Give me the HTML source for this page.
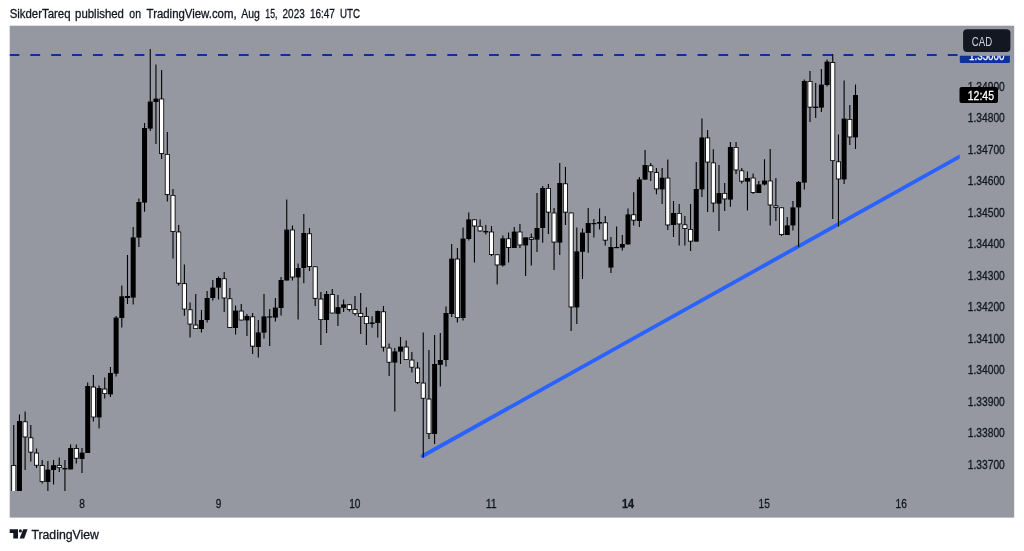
<!DOCTYPE html>
<html lang="en"><head><meta charset="utf-8"><title>USDCAD chart</title>
<style>
html,body{margin:0;padding:0;background:#fff}
body{width:1024px;height:551px;overflow:hidden;font-family:"Liberation Sans",sans-serif}
svg{display:block}
text{font-family:"Liberation Sans",sans-serif;font-size:12px;stroke-width:.3px;stroke-linejoin:round}
.d{stroke:#131722}.w{stroke:#fff}
</style></head><body>
<svg width="1024" height="551" viewBox="0 0 1024 551">
<rect x="0" y="0" width="1024" height="551" fill="#fff"/>
<rect x="9.7" y="25.7" width="1004.5" height="491.9" fill="#9598a1"/>
<text class="d" y="18.2" fill="#131722"><tspan x="9.65" textLength="60.9" lengthAdjust="spacingAndGlyphs">SikderTareq</tspan> <tspan x="75.1" textLength="48.8" lengthAdjust="spacingAndGlyphs">published</tspan> <tspan x="129.3" textLength="11.7" lengthAdjust="spacingAndGlyphs">on</tspan> <tspan x="146.6" textLength="90.0" lengthAdjust="spacingAndGlyphs">TradingView.com,</tspan> <tspan x="241.2" textLength="18.6" lengthAdjust="spacingAndGlyphs">Aug</tspan> <tspan x="265.3" textLength="12.1" lengthAdjust="spacingAndGlyphs">15,</tspan> <tspan x="282.6" textLength="22.1" lengthAdjust="spacingAndGlyphs">2023</tspan> <tspan x="309.9" textLength="25.0" lengthAdjust="spacingAndGlyphs">16:47</tspan> <tspan x="339.9" textLength="20.1" lengthAdjust="spacingAndGlyphs">UTC</tspan></text>
<defs><clipPath id="pane"><rect x="9.7" y="25.7" width="950" height="465.2"/></clipPath></defs>
<g clip-path="url(#pane)">
<line x1="422.6" y1="456" x2="960" y2="156.3" stroke="#2962ff" stroke-width="3.8" stroke-linecap="round"/>
<line x1="9.5" y1="54.9" x2="957.8" y2="54.9" stroke="#0c3299" stroke-width="2" stroke-dasharray="9.8 11.05"/>
<path d="M13.75 425.0V496.0M19.44 414.4V496.0M25.12 411.6V470.0M30.81 425.0V461.6M36.50 448.6V468.0M42.19 460.0V483.6M47.88 461.0V496.0M53.56 460.0V484.4M59.25 457.4V472.0M64.94 460.0V496.0M70.62 444.4V469.4M76.31 444.4V463.6M82.00 448.0V473.0M87.69 382.4V453.0M93.38 375.0V421.6M99.06 385.6V428.4M104.75 377.4V398.6M110.44 367.0V397.0M116.12 316.0V376.4M121.81 285.6V327.6M127.50 255.0V304.0M133.19 227.0V304.4M138.88 198.4V247.0M144.56 123.0V211.8M150.25 49.0V131.0M155.94 64.4V144.0M161.62 70.0V159.0M167.31 132.0V201.5M173.00 189.0V258.6M178.69 225.0V285.6M184.38 264.5V315.8M190.06 302.4V337.6M195.75 294.0V329.0M201.44 310.0V332.6M207.12 291.0V322.6M212.81 280.0V300.6M218.50 276.6V299.4M224.19 272.0V312.0M229.88 288.0V328.0M235.56 305.4V334.6M241.25 304.0V320.4M246.94 314.0V336.0M252.62 313.0V354.0M258.31 320.0V357.4M264.00 294.0V338.6M269.69 309.0V346.0M275.38 298.0V321.6M281.06 277.0V315.6M286.75 199.6V280.5M292.44 225.6V280.5M298.12 263.6V319.4M303.81 214.0V283.3M309.50 228.0V271.0M315.19 266.4V306.0M320.88 292.0V345.0M326.56 291.0V333.0M332.25 289.0V313.4M337.94 295.0V326.0M343.62 299.6V312.0M349.31 304.3V311.5M355.00 296.0V315.5M360.69 293.0V334.0M366.38 307.2V345.0M372.06 316.2V327.8M377.75 310.5V337.5M383.44 306.0V351.6M389.12 343.6V376.0M394.81 348.0V411.6M400.50 337.0V364.0M406.19 340.6V360.0M411.88 352.0V372.4M417.56 362.0V384.0M423.25 332.4V457.6M428.94 350.0V439.0M434.62 335.0V444.0M440.31 333.0V386.6M446.00 306.4V366.5M451.69 244.0V317.0M457.38 248.0V322.6M463.06 227.6V320.6M468.75 212.4V240.6M474.44 219.4V262.6M480.12 219.4V231.4M485.81 225.0V234.4M491.50 226.0V256.0M497.19 254.4V284.4M502.88 235.6V266.4M508.56 232.4V262.4M514.25 227.0V248.0M519.94 224.0V248.0M525.62 237.4V276.0M531.31 233.6V265.6M537.00 193.0V252.0M542.69 186.0V242.8M548.38 184.0V234.0M554.06 208.0V270.0M559.75 163.0V255.0M565.44 167.0V225.0M571.12 212.6V331.0M576.81 227.6V324.0M582.50 228.6V279.0M588.19 208.0V252.8M593.88 219.0V237.6M599.56 208.6V229.4M605.25 216.0V245.6M610.94 237.0V273.0M616.62 226.6V248.0M622.31 235.0V250.6M628.00 208.6V244.4M633.69 192.2V225.6M639.38 177.0V227.0M645.06 150.0V180.0M650.75 163.0V181.0M656.44 168.0V194.3M662.12 168.0V204.0M667.81 159.6V230.0M673.50 201.0V237.0M679.19 204.0V245.6M684.88 216.0V245.6M690.56 204.0V251.0M696.25 162.0V241.6M701.94 118.5V197.0M707.62 130.0V212.0M713.31 149.2V212.2M719.00 165.0V231.0M724.69 183.0V211.0M730.38 142.0V206.8M736.06 142.0V174.0M741.75 168.0V183.6M747.44 171.6V210.6M753.12 173.6V194.0M758.81 181.0V193.0M764.50 159.2V185.5M770.19 149.0V225.6M775.88 178.0V221.0M781.56 207.4V236.0M787.25 217.0V235.0M792.94 201.0V230.4M798.62 181.0V247.0M804.31 79.6V189.6M810.00 71.0V122.0M815.69 83.0V118.0M821.38 69.0V112.0M827.06 59.4V86.4M832.75 54.0V219.0M838.44 134.6V226.4M844.12 80.6V184.0M849.81 105.0V145.0M855.50 84.4V149.0" stroke="#000" stroke-width="1.1" fill="none"/>
<rect x="11.25" y="465.0" width="5.0" height="31.0" fill="#000"/><rect x="12.10" y="465.9" width="3.30" height="29.3" fill="#fff"/>
<rect x="16.94" y="421.0" width="5.0" height="75.0" fill="#000"/>
<rect x="22.62" y="421.4" width="5.0" height="16.0" fill="#000"/><rect x="23.48" y="422.2" width="3.30" height="14.3" fill="#fff"/>
<rect x="28.31" y="437.4" width="5.0" height="15.2" fill="#000"/><rect x="29.16" y="438.2" width="3.30" height="13.5" fill="#fff"/>
<rect x="34.00" y="452.6" width="5.0" height="13.0" fill="#000"/><rect x="34.85" y="453.5" width="3.30" height="11.3" fill="#fff"/>
<rect x="39.69" y="465.0" width="5.0" height="17.0" fill="#000"/><rect x="40.54" y="465.9" width="3.30" height="15.3" fill="#fff"/>
<rect x="45.38" y="469.6" width="5.0" height="12.4" fill="#000"/>
<rect x="51.06" y="465.2" width="5.0" height="4.8" fill="#000"/>
<rect x="56.75" y="465.0" width="5.0" height="3.0" fill="#000"/><rect x="57.60" y="465.9" width="3.30" height="1.3" fill="#fff"/>
<rect x="62.44" y="468.0" width="5.0" height="1.4" fill="#000"/>
<rect x="68.12" y="448.0" width="5.0" height="21.4" fill="#000"/>
<rect x="73.81" y="448.0" width="5.0" height="10.6" fill="#000"/><rect x="74.66" y="448.9" width="3.30" height="8.9" fill="#fff"/>
<rect x="79.50" y="452.6" width="5.0" height="6.4" fill="#000"/>
<rect x="85.19" y="386.0" width="5.0" height="67.0" fill="#000"/>
<rect x="90.88" y="386.6" width="5.0" height="30.8" fill="#000"/><rect x="91.72" y="387.5" width="3.30" height="29.1" fill="#fff"/>
<rect x="96.56" y="388.0" width="5.0" height="29.4" fill="#000"/>
<rect x="102.25" y="388.6" width="5.0" height="5.4" fill="#000"/><rect x="103.10" y="389.5" width="3.30" height="3.7" fill="#fff"/>
<rect x="107.94" y="373.0" width="5.0" height="21.4" fill="#000"/>
<rect x="113.62" y="317.6" width="5.0" height="56.0" fill="#000"/>
<rect x="119.31" y="296.3" width="5.0" height="21.7" fill="#000"/>
<rect x="125.00" y="296.0" width="5.0" height="2.0" fill="#000"/>
<rect x="130.69" y="237.4" width="5.0" height="60.2" fill="#000"/>
<rect x="136.38" y="202.0" width="5.0" height="35.6" fill="#000"/>
<rect x="142.06" y="128.0" width="5.0" height="74.6" fill="#000"/>
<rect x="147.75" y="101.6" width="5.0" height="27.0" fill="#000"/>
<rect x="153.44" y="98.6" width="5.0" height="3.4" fill="#000"/>
<rect x="159.12" y="98.6" width="5.0" height="55.4" fill="#000"/><rect x="159.97" y="99.4" width="3.30" height="53.7" fill="#fff"/>
<rect x="164.81" y="154.0" width="5.0" height="41.0" fill="#000"/><rect x="165.66" y="154.8" width="3.30" height="39.3" fill="#fff"/>
<rect x="170.50" y="195.0" width="5.0" height="37.0" fill="#000"/><rect x="171.35" y="195.8" width="3.30" height="35.3" fill="#fff"/>
<rect x="176.19" y="231.6" width="5.0" height="52.0" fill="#000"/><rect x="177.04" y="232.4" width="3.30" height="50.3" fill="#fff"/>
<rect x="181.88" y="283.2" width="5.0" height="26.2" fill="#000"/><rect x="182.72" y="284.1" width="3.30" height="24.5" fill="#fff"/>
<rect x="187.56" y="309.4" width="5.0" height="15.1" fill="#000"/><rect x="188.41" y="310.2" width="3.30" height="13.4" fill="#fff"/>
<rect x="193.25" y="324.6" width="5.0" height="4.4" fill="#000"/><rect x="194.10" y="325.5" width="3.30" height="2.7" fill="#fff"/>
<rect x="198.94" y="320.0" width="5.0" height="9.0" fill="#000"/>
<rect x="204.62" y="298.0" width="5.0" height="22.0" fill="#000"/>
<rect x="210.31" y="287.6" width="5.0" height="10.4" fill="#000"/>
<rect x="216.00" y="278.0" width="5.0" height="9.6" fill="#000"/>
<rect x="221.69" y="278.4" width="5.0" height="20.0" fill="#000"/><rect x="222.54" y="279.2" width="3.30" height="18.3" fill="#fff"/>
<rect x="227.38" y="298.4" width="5.0" height="29.6" fill="#000"/><rect x="228.22" y="299.2" width="3.30" height="27.9" fill="#fff"/>
<rect x="233.06" y="310.6" width="5.0" height="17.4" fill="#000"/>
<rect x="238.75" y="310.6" width="5.0" height="9.8" fill="#000"/><rect x="239.60" y="311.5" width="3.30" height="8.1" fill="#fff"/>
<rect x="244.44" y="316.0" width="5.0" height="4.4" fill="#000"/>
<rect x="250.12" y="316.4" width="5.0" height="30.2" fill="#000"/><rect x="250.97" y="317.2" width="3.30" height="28.5" fill="#fff"/>
<rect x="255.81" y="332.4" width="5.0" height="14.6" fill="#000"/>
<rect x="261.50" y="316.4" width="5.0" height="16.2" fill="#000"/>
<rect x="267.19" y="316.4" width="5.0" height="1.2" fill="#000"/>
<rect x="272.88" y="307.6" width="5.0" height="10.0" fill="#000"/>
<rect x="278.56" y="280.0" width="5.0" height="28.0" fill="#000"/>
<rect x="284.25" y="229.6" width="5.0" height="50.9" fill="#000"/>
<rect x="289.94" y="229.6" width="5.0" height="47.9" fill="#000"/><rect x="290.79" y="230.4" width="3.30" height="46.2" fill="#fff"/>
<rect x="295.62" y="268.0" width="5.0" height="9.4" fill="#000"/>
<rect x="301.31" y="233.0" width="5.0" height="35.0" fill="#000"/>
<rect x="307.00" y="233.4" width="5.0" height="33.6" fill="#000"/><rect x="307.85" y="234.2" width="3.30" height="31.9" fill="#fff"/>
<rect x="312.69" y="266.4" width="5.0" height="32.4" fill="#000"/><rect x="313.54" y="267.2" width="3.30" height="30.7" fill="#fff"/>
<rect x="318.38" y="298.6" width="5.0" height="21.4" fill="#000"/><rect x="319.23" y="299.5" width="3.30" height="19.7" fill="#fff"/>
<rect x="324.06" y="294.0" width="5.0" height="26.0" fill="#000"/>
<rect x="329.75" y="294.0" width="5.0" height="19.4" fill="#000"/><rect x="330.60" y="294.9" width="3.30" height="17.7" fill="#fff"/>
<rect x="335.44" y="307.2" width="5.0" height="6.6" fill="#000"/>
<rect x="341.12" y="304.4" width="5.0" height="3.4" fill="#000"/>
<rect x="346.81" y="304.3" width="5.0" height="5.5" fill="#000"/><rect x="347.66" y="305.2" width="3.30" height="3.8" fill="#fff"/>
<rect x="352.50" y="309.0" width="5.0" height="5.0" fill="#000"/><rect x="353.35" y="309.9" width="3.30" height="3.3" fill="#fff"/>
<rect x="358.19" y="313.0" width="5.0" height="4.0" fill="#000"/><rect x="359.04" y="313.9" width="3.30" height="2.3" fill="#fff"/>
<rect x="363.88" y="316.0" width="5.0" height="8.0" fill="#000"/><rect x="364.73" y="316.9" width="3.30" height="6.3" fill="#fff"/>
<rect x="369.56" y="322.5" width="5.0" height="1.5" fill="#000"/>
<rect x="375.25" y="311.0" width="5.0" height="12.0" fill="#000"/>
<rect x="380.94" y="311.4" width="5.0" height="36.2" fill="#000"/><rect x="381.79" y="312.2" width="3.30" height="34.5" fill="#fff"/>
<rect x="386.62" y="347.6" width="5.0" height="15.0" fill="#000"/><rect x="387.48" y="348.5" width="3.30" height="13.3" fill="#fff"/>
<rect x="392.31" y="351.4" width="5.0" height="11.2" fill="#000"/>
<rect x="398.00" y="346.6" width="5.0" height="5.0" fill="#000"/>
<rect x="403.69" y="346.6" width="5.0" height="13.4" fill="#000"/><rect x="404.54" y="347.5" width="3.30" height="11.7" fill="#fff"/>
<rect x="409.38" y="359.6" width="5.0" height="8.0" fill="#000"/><rect x="410.23" y="360.5" width="3.30" height="6.3" fill="#fff"/>
<rect x="415.06" y="367.6" width="5.0" height="15.2" fill="#000"/><rect x="415.91" y="368.5" width="3.30" height="13.5" fill="#fff"/>
<rect x="420.75" y="382.6" width="5.0" height="16.0" fill="#000"/><rect x="421.60" y="383.5" width="3.30" height="14.3" fill="#fff"/>
<rect x="426.44" y="398.6" width="5.0" height="35.4" fill="#000"/><rect x="427.29" y="399.5" width="3.30" height="33.7" fill="#fff"/>
<rect x="432.12" y="364.0" width="5.0" height="70.0" fill="#000"/>
<rect x="437.81" y="360.0" width="5.0" height="4.8" fill="#000"/>
<rect x="443.50" y="313.0" width="5.0" height="47.0" fill="#000"/>
<rect x="449.19" y="258.6" width="5.0" height="55.4" fill="#000"/>
<rect x="454.88" y="258.6" width="5.0" height="59.4" fill="#000"/><rect x="455.73" y="259.5" width="3.30" height="57.7" fill="#fff"/>
<rect x="460.56" y="238.6" width="5.0" height="79.4" fill="#000"/>
<rect x="466.25" y="219.4" width="5.0" height="19.6" fill="#000"/>
<rect x="471.94" y="219.4" width="5.0" height="7.0" fill="#000"/><rect x="472.79" y="220.2" width="3.30" height="5.3" fill="#fff"/>
<rect x="477.62" y="226.0" width="5.0" height="5.4" fill="#000"/><rect x="478.48" y="226.8" width="3.30" height="3.7" fill="#fff"/>
<rect x="483.31" y="231.0" width="5.0" height="1.4" fill="#000"/>
<rect x="489.00" y="231.6" width="5.0" height="23.4" fill="#000"/><rect x="489.85" y="232.4" width="3.30" height="21.7" fill="#fff"/>
<rect x="494.69" y="254.4" width="5.0" height="11.0" fill="#000"/><rect x="495.54" y="255.2" width="3.30" height="9.3" fill="#fff"/>
<rect x="500.38" y="238.4" width="5.0" height="27.0" fill="#000"/>
<rect x="506.06" y="238.4" width="5.0" height="9.6" fill="#000"/><rect x="506.91" y="239.2" width="3.30" height="7.9" fill="#fff"/>
<rect x="511.75" y="231.6" width="5.0" height="16.4" fill="#000"/>
<rect x="517.44" y="231.6" width="5.0" height="13.8" fill="#000"/><rect x="518.29" y="232.4" width="3.30" height="12.1" fill="#fff"/>
<rect x="523.12" y="237.4" width="5.0" height="8.0" fill="#000"/>
<rect x="528.81" y="237.4" width="5.0" height="2.4" fill="#000"/><rect x="529.66" y="238.2" width="3.30" height="0.7" fill="#fff"/>
<rect x="534.50" y="228.0" width="5.0" height="11.6" fill="#000"/>
<rect x="540.19" y="188.0" width="5.0" height="40.0" fill="#000"/>
<rect x="545.88" y="188.0" width="5.0" height="24.6" fill="#000"/><rect x="546.73" y="188.8" width="3.30" height="22.9" fill="#fff"/>
<rect x="551.56" y="212.6" width="5.0" height="29.9" fill="#000"/><rect x="552.41" y="213.4" width="3.30" height="28.2" fill="#fff"/>
<rect x="557.25" y="183.0" width="5.0" height="59.6" fill="#000"/>
<rect x="562.94" y="183.4" width="5.0" height="29.2" fill="#000"/><rect x="563.79" y="184.2" width="3.30" height="27.5" fill="#fff"/>
<rect x="568.62" y="212.6" width="5.0" height="94.8" fill="#000"/><rect x="569.48" y="213.4" width="3.30" height="93.1" fill="#fff"/>
<rect x="574.31" y="251.4" width="5.0" height="56.0" fill="#000"/>
<rect x="580.00" y="232.6" width="5.0" height="19.2" fill="#000"/>
<rect x="585.69" y="223.0" width="5.0" height="10.0" fill="#000"/>
<rect x="591.38" y="223.0" width="5.0" height="1.2" fill="#000"/>
<rect x="597.06" y="222.0" width="5.0" height="1.6" fill="#000"/>
<rect x="602.75" y="222.4" width="5.0" height="18.2" fill="#000"/><rect x="603.60" y="223.2" width="3.30" height="16.5" fill="#fff"/>
<rect x="608.44" y="247.0" width="5.0" height="20.6" fill="#000"/>
<rect x="614.12" y="247.0" width="5.0" height="1.2" fill="#000"/>
<rect x="619.81" y="244.0" width="5.0" height="3.6" fill="#000"/>
<rect x="625.50" y="214.4" width="5.0" height="30.0" fill="#000"/>
<rect x="631.19" y="214.4" width="5.0" height="6.2" fill="#000"/><rect x="632.04" y="215.2" width="3.30" height="4.5" fill="#fff"/>
<rect x="636.88" y="179.4" width="5.0" height="41.6" fill="#000"/>
<rect x="642.56" y="165.0" width="5.0" height="14.6" fill="#000"/>
<rect x="648.25" y="165.4" width="5.0" height="6.8" fill="#000"/><rect x="649.10" y="166.2" width="3.30" height="5.1" fill="#fff"/>
<rect x="653.94" y="172.2" width="5.0" height="17.1" fill="#000"/><rect x="654.79" y="173.0" width="3.30" height="15.4" fill="#fff"/>
<rect x="659.62" y="177.7" width="5.0" height="11.7" fill="#000"/>
<rect x="665.31" y="177.7" width="5.0" height="47.7" fill="#000"/><rect x="666.16" y="178.5" width="3.30" height="46.0" fill="#fff"/>
<rect x="671.00" y="213.0" width="5.0" height="12.0" fill="#000"/>
<rect x="676.69" y="213.0" width="5.0" height="11.4" fill="#000"/><rect x="677.54" y="213.8" width="3.30" height="9.7" fill="#fff"/>
<rect x="682.38" y="224.4" width="5.0" height="4.6" fill="#000"/><rect x="683.23" y="225.2" width="3.30" height="2.9" fill="#fff"/>
<rect x="688.06" y="229.0" width="5.0" height="12.6" fill="#000"/><rect x="688.91" y="229.8" width="3.30" height="10.9" fill="#fff"/>
<rect x="693.75" y="189.0" width="5.0" height="52.6" fill="#000"/>
<rect x="699.44" y="137.5" width="5.0" height="51.9" fill="#000"/>
<rect x="705.12" y="137.5" width="5.0" height="25.0" fill="#000"/><rect x="705.98" y="138.3" width="3.30" height="23.3" fill="#fff"/>
<rect x="710.81" y="162.5" width="5.0" height="41.0" fill="#000"/><rect x="711.66" y="163.3" width="3.30" height="39.3" fill="#fff"/>
<rect x="716.50" y="193.0" width="5.0" height="10.6" fill="#000"/>
<rect x="722.19" y="193.0" width="5.0" height="6.4" fill="#000"/><rect x="723.04" y="193.8" width="3.30" height="4.7" fill="#fff"/>
<rect x="727.88" y="147.0" width="5.0" height="52.6" fill="#000"/>
<rect x="733.56" y="147.0" width="5.0" height="23.4" fill="#000"/><rect x="734.41" y="147.8" width="3.30" height="21.7" fill="#fff"/>
<rect x="739.25" y="170.4" width="5.0" height="11.2" fill="#000"/><rect x="740.10" y="171.2" width="3.30" height="9.5" fill="#fff"/>
<rect x="744.94" y="178.0" width="5.0" height="3.6" fill="#000"/>
<rect x="750.62" y="177.6" width="5.0" height="15.4" fill="#000"/><rect x="751.48" y="178.4" width="3.30" height="13.7" fill="#fff"/>
<rect x="756.31" y="184.4" width="5.0" height="8.6" fill="#000"/>
<rect x="762.00" y="180.6" width="5.0" height="3.9" fill="#000"/>
<rect x="767.69" y="180.6" width="5.0" height="24.8" fill="#000"/><rect x="768.54" y="181.4" width="3.30" height="23.1" fill="#fff"/>
<rect x="773.38" y="205.4" width="5.0" height="2.4" fill="#000"/><rect x="774.23" y="206.2" width="3.30" height="0.7" fill="#fff"/>
<rect x="779.06" y="207.4" width="5.0" height="27.6" fill="#000"/><rect x="779.91" y="208.2" width="3.30" height="25.9" fill="#fff"/>
<rect x="784.75" y="225.4" width="5.0" height="9.6" fill="#000"/>
<rect x="790.44" y="207.4" width="5.0" height="18.0" fill="#000"/>
<rect x="796.12" y="182.0" width="5.0" height="25.4" fill="#000"/>
<rect x="801.81" y="81.0" width="5.0" height="101.6" fill="#000"/>
<rect x="807.50" y="81.0" width="5.0" height="26.6" fill="#000"/><rect x="808.35" y="81.8" width="3.30" height="24.9" fill="#fff"/>
<rect x="813.19" y="106.6" width="5.0" height="1.4" fill="#000"/>
<rect x="818.88" y="84.6" width="5.0" height="23.0" fill="#000"/>
<rect x="824.56" y="61.6" width="5.0" height="23.4" fill="#000"/>
<rect x="830.25" y="62.0" width="5.0" height="99.0" fill="#000"/><rect x="831.10" y="62.9" width="3.30" height="97.3" fill="#fff"/>
<rect x="835.94" y="161.4" width="5.0" height="18.0" fill="#000"/><rect x="836.79" y="162.2" width="3.30" height="16.3" fill="#fff"/>
<rect x="841.62" y="118.6" width="5.0" height="60.8" fill="#000"/>
<rect x="847.31" y="119.0" width="5.0" height="18.4" fill="#000"/><rect x="848.16" y="119.8" width="3.30" height="16.7" fill="#fff"/>
<rect x="853.00" y="95.0" width="5.0" height="42.4" fill="#000"/>
</g>
<text class="d" x="967.8" y="90.8" fill="#131722" textLength="37" lengthAdjust="spacingAndGlyphs">1.34900</text>
<text class="d" x="967.8" y="122.3" fill="#131722" textLength="37" lengthAdjust="spacingAndGlyphs">1.34800</text>
<text class="d" x="967.8" y="153.8" fill="#131722" textLength="37" lengthAdjust="spacingAndGlyphs">1.34700</text>
<text class="d" x="967.8" y="185.2" fill="#131722" textLength="37" lengthAdjust="spacingAndGlyphs">1.34600</text>
<text class="d" x="967.8" y="216.7" fill="#131722" textLength="37" lengthAdjust="spacingAndGlyphs">1.34500</text>
<text class="d" x="967.8" y="248.2" fill="#131722" textLength="37" lengthAdjust="spacingAndGlyphs">1.34400</text>
<text class="d" x="967.8" y="279.7" fill="#131722" textLength="37" lengthAdjust="spacingAndGlyphs">1.34300</text>
<text class="d" x="967.8" y="311.1" fill="#131722" textLength="37" lengthAdjust="spacingAndGlyphs">1.34200</text>
<text class="d" x="967.8" y="342.6" fill="#131722" textLength="37" lengthAdjust="spacingAndGlyphs">1.34100</text>
<text class="d" x="967.8" y="374.1" fill="#131722" textLength="37" lengthAdjust="spacingAndGlyphs">1.34000</text>
<text class="d" x="967.8" y="405.5" fill="#131722" textLength="37" lengthAdjust="spacingAndGlyphs">1.33900</text>
<text class="d" x="967.8" y="437.0" fill="#131722" textLength="37" lengthAdjust="spacingAndGlyphs">1.33800</text>
<text class="d" x="967.8" y="468.5" fill="#131722" textLength="37" lengthAdjust="spacingAndGlyphs">1.33700</text>
<defs><clipPath id="lbl"><rect x="950" y="55.8" width="70" height="10"/></clipPath></defs>
<g clip-path="url(#lbl)"><rect x="959.8" y="46.7" width="50.1" height="16.3" rx="1.5" fill="#0c3299"/>
<text class="w" x="969" y="59.8" fill="#fff" textLength="35.5" lengthAdjust="spacingAndGlyphs">1.35000</text></g>
<rect x="963.1" y="29.2" width="47.3" height="22.8" rx="4" fill="#131722"/>
<text x="971.8" y="45.8" fill="#d1d4dc" textLength="20.3" lengthAdjust="spacingAndGlyphs">CAD</text>
<rect x="959.5" y="87" width="38.5" height="16" rx="2" fill="#000"/>
<text class="w" x="967.8" y="99.6" fill="#fff" textLength="26.2" lengthAdjust="spacingAndGlyphs">12:45</text>
<text class="d" x="79.2" y="508.1" fill="#131722" textLength="5.6" lengthAdjust="spacingAndGlyphs">8</text>
<text class="d" x="215.7" y="508.1" fill="#131722" textLength="5.6" lengthAdjust="spacingAndGlyphs">9</text>
<text class="d" x="349.2" y="508.1" fill="#131722" textLength="11.3" lengthAdjust="spacingAndGlyphs">10</text>
<text class="d" x="485.7" y="508.1" fill="#131722" textLength="11.0" lengthAdjust="spacingAndGlyphs">11</text>
<text class="d" x="622.1" y="508.1" fill="#131722" textLength="12" lengthAdjust="spacingAndGlyphs" font-weight="bold">14</text>
<text class="d" x="758.6" y="508.1" fill="#131722" textLength="11.3" lengthAdjust="spacingAndGlyphs">15</text>
<text class="d" x="895.5" y="508.1" fill="#131722" textLength="11.3" lengthAdjust="spacingAndGlyphs">16</text>
<g fill="#131722"><path d="M9.7 529.3H18V538.6H13.3V533H9.7Z"/><circle cx="20.4" cy="530.9" r="1.55"/><path d="M23.2 529.3H27.6L24.2 538.6H19.6Z"/></g>
<text class="d" x="31.4" y="538.6" fill="#131722" textLength="67.6" lengthAdjust="spacingAndGlyphs" style="font-size:12.3px">TradingView</text>
</svg>
</body></html>
